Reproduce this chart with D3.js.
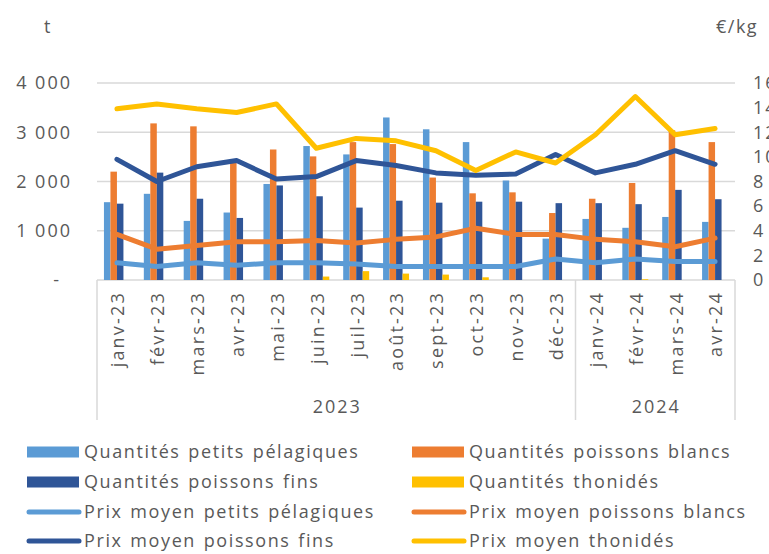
<!DOCTYPE html>
<html>
<head>
<meta charset="utf-8">
<script src="https://cdn.jsdelivr.net/npm/d3@7"></script>
<style>
  body { margin: 0; background: #fff; }
  text { font-family: "Open Sans", sans-serif; fill: #595959; }
</style>
</head>
<body>
<script>
const months = ["janv-23","févr-23","mars-23","avr-23","mai-23","juin-23","juil-23","août-23","sept-23","oct-23","nov-23","déc-23","janv-24","févr-24","mars-24","avr-24"];
const years = [{label: "2023", first: "janv-23", last: "déc-23"}, {label: "2024", first: "janv-24", last: "avr-24"}];

// quantités (t)
const qtePelagiques = [1580,1750,1200,1370,1950,2720,2550,3300,3060,2800,2020,840,1240,1060,1280,1180];
const qteBlancs     = [2200,3180,3120,2420,2650,2510,2800,2760,2080,1760,1780,1360,1650,1970,3040,2800];
const qteFins       = [1550,2180,1650,1260,1920,1700,1470,1610,1570,1590,1590,1560,1560,1540,1830,1640];
const qteThonides   = [0,0,0,0,0,70,180,130,110,55,0,0,0,15,0,0];

// prix moyens (€/kg)
const prixPelagiques = [1.4,1.1,1.4,1.2,1.4,1.4,1.3,1.1,1.1,1.1,1.1,1.7,1.4,1.7,1.5,1.5];
const prixBlancs     = [3.7,2.5,2.8,3.1,3.1,3.2,3.0,3.3,3.5,4.2,3.7,3.7,3.3,3.1,2.7,3.4];
const prixFins       = [9.8,8.0,9.2,9.7,8.2,8.4,9.7,9.3,8.7,8.5,8.6,10.2,8.7,9.4,10.5,9.4];
const prixThonides   = [13.9,14.3,13.9,13.6,14.3,10.7,11.5,11.3,10.5,8.9,10.4,9.5,11.8,14.9,11.8,12.3];

const leftTicks = [0,1000,2000,3000,4000];
const rightTicks = [0,2,4,6,8,10,12,14,16];

const colors = {pel: "#5b9bd5", blanc: "#ed7d31", fin: "#2f5597", thon: "#ffc000"};

const barSeries = [
  {key: "pel", name: "Quantités petits pélagiques", values: qtePelagiques},
  {key: "blanc", name: "Quantités poissons blancs", values: qteBlancs},
  {key: "fin", name: "Quantités poissons fins", values: qteFins},
  {key: "thon", name: "Quantités thonidés", values: qteThonides}
];
const lineSeries = [
  {key: "pel", name: "Prix moyen petits pélagiques", values: prixPelagiques},
  {key: "blanc", name: "Prix moyen poissons blancs", values: prixBlancs},
  {key: "fin", name: "Prix moyen poissons fins", values: prixFins},
  {key: "thon", name: "Prix moyen thonidés", values: prixThonides}
];

const width = 769, height = 554;
const plot = {left: 97, right: 735, top: 83, bottom: 280};

const svg = d3.select("body").append("svg")
  .attr("width", width)
  .attr("height", height);

const x = d3.scaleBand().domain(months).range([plot.left, plot.right]);
const xSub = d3.scaleBand().domain(barSeries.map(d => d.key))
  .range([0, x.bandwidth()]).paddingOuter(1.07);
const y = d3.scaleLinear().domain([0, 4000]).range([plot.bottom, plot.top]);
const y2 = d3.scaleLinear().domain([0, 16]).range([plot.bottom, plot.top]);

const fmt = d3.formatLocale({decimal: ",", thousands: " ", grouping: [3], currency: ["", " €"]}).format(",d");

// gridlines
svg.append("g").selectAll("line")
  .data(leftTicks)
  .enter().append("line")
  .attr("x1", plot.left).attr("x2", plot.right)
  .attr("y1", d => y(d)).attr("y2", d => y(d))
  .attr("stroke", "#d9d9d9").attr("stroke-width", 1.5);

// left axis labels
svg.append("g").selectAll("text")
  .data(leftTicks)
  .enter().append("text")
  .attr("x", d => d === 0 ? 61 : 72)
  .attr("y", d => y(d))
  .attr("dy", "0.35em")
  .attr("text-anchor", "end")
  .style("font-size", "18px")
  .style("letter-spacing", "2px")
  .text(d => d === 0 ? "-" : fmt(d));

// right axis labels (cut by the right edge, as in the original)
svg.append("g").selectAll("text")
  .data(rightTicks)
  .enter().append("text")
  .attr("x", 753)
  .attr("y", d => y2(d))
  .attr("dy", "0.35em")
  .style("font-size", "18px")
  .style("letter-spacing", "2px")
  .text(d => d);

svg.append("text").attr("x", 44).attr("y", 33).style("font-size", "18px").text("t");
svg.append("text").attr("x", 716).attr("y", 33)
  .style("font-size", "18px").style("letter-spacing", "1.5px").text("€/kg");

// bars
barSeries.forEach(s => {
  svg.append("g").selectAll("rect")
    .data(s.values)
    .enter().append("rect")
    .attr("x", (d, i) => x(months[i]) + xSub(s.key))
    .attr("width", xSub.bandwidth())
    .attr("y", d => y(d))
    .attr("height", d => y(0) - y(d))
    .attr("fill", colors[s.key]);
});

// lines
const line = d3.line()
  .x((d, i) => x(months[i]) + x.bandwidth() / 2)
  .y(d => y2(d));

lineSeries.forEach(s => {
  svg.append("path")
    .datum(s.values)
    .attr("d", line)
    .attr("fill", "none")
    .attr("stroke", colors[s.key])
    .attr("stroke-width", 5)
    .attr("stroke-linejoin", "round")
    .attr("stroke-linecap", "round");
});

// category axis
const catBottom = 420;
const bounds = [plot.left].concat(years.map(d => x(d.last) + x.bandwidth()));
svg.append("g").selectAll("line")
  .data(bounds)
  .enter().append("line")
  .attr("x1", d => d).attr("x2", d => d)
  .attr("y1", plot.bottom).attr("y2", catBottom)
  .attr("stroke", "#d9d9d9").attr("stroke-width", 1.5);

svg.append("g").selectAll("text")
  .data(months)
  .enter().append("text")
  .attr("transform", d => `translate(${x(d) + x.bandwidth() / 2 + 1},291) rotate(-90)`)
  .attr("dy", "0.35em")
  .attr("text-anchor", "end")
  .style("font-size", "18px")
  .style("letter-spacing", "2.2px")
  .text(d => d);

svg.append("g").selectAll("text")
  .data(years)
  .enter().append("text")
  .attr("x", d => (x(d.first) + x(d.last) + x.bandwidth()) / 2 + 1)
  .attr("y", 413)
  .attr("text-anchor", "middle")
  .style("font-size", "18px")
  .style("letter-spacing", "2px")
  .text(d => d.label);

// legend
const legendItems = [];
for (let r = 0; r < 2; r++) {
  legendItems.push({type: "bar", s: barSeries[r * 2], col: 0, row: r});
  legendItems.push({type: "bar", s: barSeries[r * 2 + 1], col: 1, row: r});
}
for (let r = 0; r < 2; r++) {
  legendItems.push({type: "line", s: lineSeries[r * 2], col: 0, row: r + 2});
  legendItems.push({type: "line", s: lineSeries[r * 2 + 1], col: 1, row: r + 2});
}
const colX = [27, 412];
const rowY = [452, 482, 512, 541];

const lg = svg.append("g").selectAll("g")
  .data(legendItems)
  .enter().append("g")
  .attr("transform", d => `translate(${colX[d.col]},${rowY[d.row]})`);

lg.filter(d => d.type === "bar").append("rect")
  .attr("x", 0).attr("y", -5.5)
  .attr("width", 52).attr("height", 11)
  .attr("fill", d => colors[d.s.key]);

lg.filter(d => d.type === "line").append("line")
  .attr("x1", 2).attr("x2", 52)
  .attr("y1", 0).attr("y2", 0)
  .attr("stroke", d => colors[d.s.key])
  .attr("stroke-width", 5)
  .attr("stroke-linecap", "round");

lg.append("text")
  .attr("x", 57)
  .attr("dy", "0.35em")
  .style("font-size", "18px")
  .style("letter-spacing", "1.6px")
  .style("word-spacing", "1.5px")
  .text(d => d.s.name);
</script>
</body>
</html>
